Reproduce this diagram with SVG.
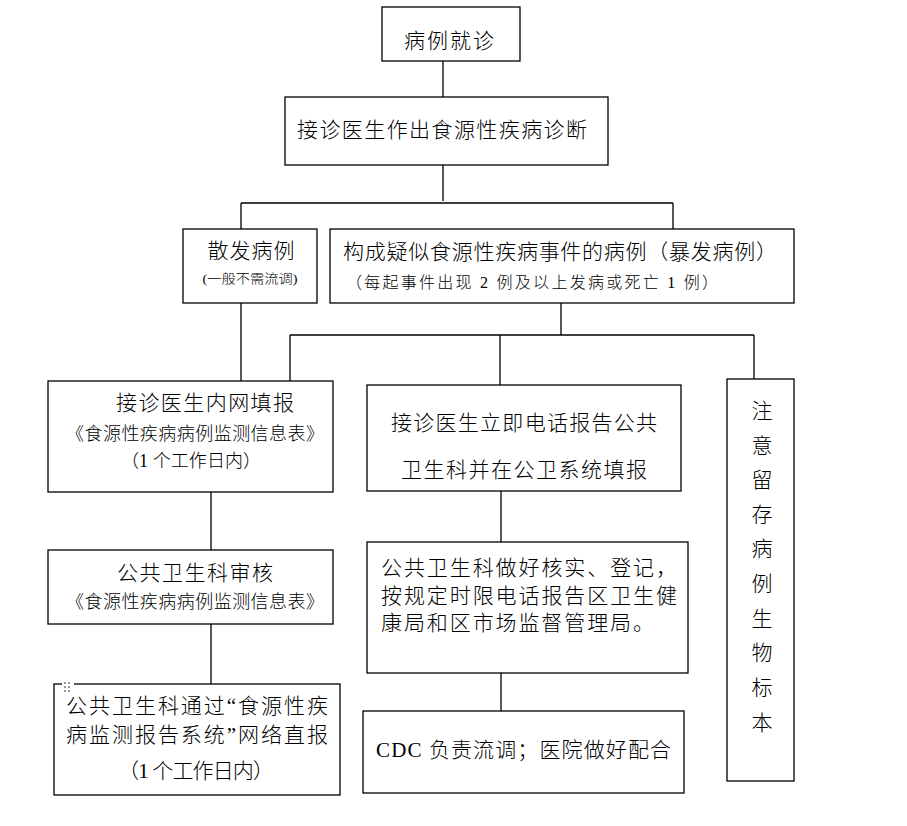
<svg xmlns="http://www.w3.org/2000/svg" width="907" height="826" viewBox="0 0 907 826">
<style>
.box{fill:#fff;stroke:#000;stroke-width:1.3}
.ln{fill:none;stroke:#000;stroke-width:1.3}
text{font-family:"Liberation Serif","Noto Sans CJK SC",serif;fill:#000;font-weight:300}
.t22{font-size:21px}
.t18{font-size:18px}
.t16{font-size:16px}
.t14{font-size:13px}
.m{text-anchor:middle}
</style>
<rect width="907" height="826" fill="#fff"/>
<g id="connectors">
<path class="ln" d="M443 61V97"/>
<path class="ln" d="M443 165V201M241 203H673M241 203V229M673 203V229"/>
<path class="ln" d="M241 303V381"/>
<path class="ln" d="M561 303V335M290 335H754M290 335V381M500 335V385M754 335V379"/>
<path class="ln" d="M211 492V550M211 624V684"/>
<path class="ln" d="M501 491V542M501 673V711"/>
</g>
<g id="n1"><rect class="box" x="382" y="7" width="138" height="54"/><text class="t22 m" x="449" y="48" textLength="90">病例就诊</text></g>
<g id="n2"><rect class="box" x="285" y="97" width="323" height="68"/><text class="t22 m" x="442" y="137" textLength="290">接诊医生作出食源性疾病诊断</text></g>
<g id="n3"><rect class="box" x="183" y="229" width="134" height="74"/><text class="t22 m" x="251" y="258" textLength="87">散发病例</text><text class="t14 m" x="250" y="283" textLength="95" lengthAdjust="spacingAndGlyphs">(一般不需流调)</text></g>
<g id="n4"><rect class="box" x="330" y="229" width="464" height="74"/><text class="t22 m" x="560" y="259" textLength="434">构成疑似食源性疾病事件的病例（暴发病例）</text><text class="t16" x="346" y="288" textLength="372">（每起事件出现 2 例及以上发病或死亡 1 例）</text></g>
<g id="n5"><rect class="box" x="48" y="381" width="285" height="111"/><text class="t22 m" x="205" y="410" textLength="178">接诊医生内网填报</text><text class="t18 m" x="195" y="440" textLength="258">《食源性疾病病例监测信息表》</text><text class="t18 m" x="191" y="467" textLength="140">（1 个工作日内）</text></g>
<g id="n6"><rect class="box" x="367" y="385" width="314" height="106"/><text class="t22 m" x="524" y="430" textLength="266">接诊医生立即电话报告公共</text><text class="t22 m" x="524" y="477" textLength="246">卫生科并在公卫系统填报</text></g>
<g id="n7"><rect class="box" x="727" y="379" width="67" height="402"/>
<text class="t22 m" x="762" y="418">注</text><text class="t22 m" x="762" y="453">意</text><text class="t22 m" x="762" y="487">留</text><text class="t22 m" x="762" y="522">存</text><text class="t22 m" x="762" y="556">病</text><text class="t22 m" x="762" y="591">例</text><text class="t22 m" x="762" y="626">生</text><text class="t22 m" x="762" y="660">物</text><text class="t22 m" x="762" y="695">标</text><text class="t22 m" x="762" y="730">本</text></g>
<g id="n8"><rect class="box" x="48" y="550" width="285" height="74"/><text class="t22 m" x="195" y="580" textLength="156">公共卫生科审核</text><text class="t18 m" x="195" y="608" textLength="258">《食源性疾病病例监测信息表》</text></g>
<g id="n9"><rect class="box" x="367" y="542" width="321" height="131"/><text class="t22" x="381" y="575" textLength="296">公共卫生科做好核实、登记，</text><text class="t22" x="381" y="603" textLength="296">按规定时限电话报告区卫生健</text><text class="t22" x="381" y="630" textLength="273">康局和区市场监督管理局。</text></g>
<g id="n10"><rect class="box" x="54" y="684" width="286" height="111"/>
<rect x="62" y="680" width="12" height="14" fill="#fff"/>
<g fill="#999"><rect x="64" y="682" width="2" height="2"/><rect x="68" y="682" width="2" height="2"/><rect x="64" y="686" width="2" height="2"/><rect x="68" y="686" width="2" height="2"/><rect x="64" y="690" width="2" height="2"/><rect x="68" y="690" width="2" height="2"/></g>
<text class="t22" x="66" y="713" textLength="262">公共卫生科通过“食源性疾</text><text class="t22" x="66" y="742" textLength="262">病监测报告系统”网络直报</text><text class="t22 m" x="196" y="778" textLength="156">（1 个工作日内）</text></g>
<g id="n11"><rect class="box" x="363" y="711" width="321" height="82"/><text class="t22" x="376" y="757" textLength="295">CDC 负责流调；医院做好配合</text></g>
</svg>
